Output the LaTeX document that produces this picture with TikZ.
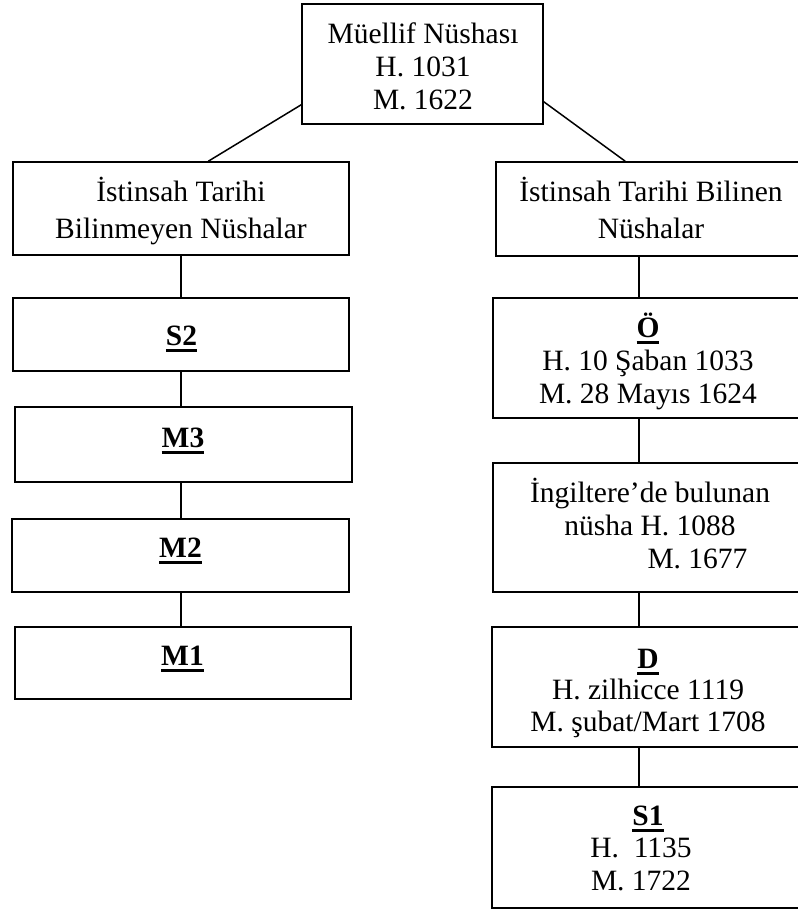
\documentclass[tikz,border=0pt]{standalone}
\usepackage{fontspec}
\setmainfont{Liberation Serif}
\usetikzlibrary{calc}
\newcommand\myul[1]{\setbox0\hbox{#1}\leavevmode\rlap{\rule[-6.5pt]{\wd0}{2.5pt}}\box0}
\newcommand\tst{\rule{0pt}{28pt}}
\newcommand\boxat[5]{\node[box, minimum width={(#4-#2)*1pt}, minimum height={(#5-#3)*1pt}] (#1) at ({(#2+#4)/2},{(#3+#5)/2}) {};}
\begin{document}
\begin{tikzpicture}[x=1pt,y=-1pt,
  box/.style={draw, line width=1.5pt, rectangle, inner sep=0pt},
  txt/.style={align=center, anchor=north, inner sep=0pt, font=\fontsize{29.5}{33}\selectfont},
  link/.style={line width=1.5pt}]
\useasboundingbox (0,0) rectangle (798,911);
\clip (0,0) rectangle (798,911);

% boxes
\boxat{top}{302}{4}{543}{124}
\boxat{lh}{13}{162}{349}{255}
\boxat{s2}{13}{298}{349}{371}
\boxat{m3}{15}{407}{352}{482}
\boxat{m2}{12}{519}{349}{592}
\boxat{m1}{15}{627}{351}{699}
\boxat{rh}{496}{162}{809}{256}
\boxat{o}{493}{298}{803}{418}
\boxat{ing}{493}{463}{807}{592}
\boxat{d}{492}{627}{805}{747}
\boxat{s1}{492}{787}{804}{908}

% texts
\node[txt] (topT) at (423,15) {\tst Müellif Nüshası\\H. 1031\\M. 1622};
\node[txt] (lhT) at (181,173) {\tst İstinsah Tarihi\\[4pt]Bilinmeyen Nüshalar};
\node[txt] (rhT) at (651,173) {\tst İstinsah Tarihi Bilinen\\[4pt]Nüshalar};
\node[txt] (s2T) at (181.5,317) {\tst\textbf{\myul{S2}}};
\node[txt] (m3T) at (183,419) {\tst\textbf{\myul{M3}}};
\node[txt] (m2T) at (180.5,529) {\tst\textbf{\myul{M2}}};
\node[txt] (m1T) at (182.5,637) {\tst\textbf{\myul{M1}}};
\node[txt] (oT) at (648,309) {\tst\textbf{\myul{Ö}}\\H. 10 Şaban 1033\\M. 28 Mayıs 1624};
\node[txt] (ingT) at (650,474) {\tst İngiltere’de bulunan\\nüsha H. 1088\\\hspace*{95pt}M. 1677};
\node[txt, font=\fontsize{29.5}{31.5}\selectfont] (dT) at (648,640) {\tst\textbf{\myul{D}}\\H. zilhicce 1119\\M. şubat/Mart 1708};
\node[txt, font=\fontsize{29.5}{32.5}\selectfont] (s1T) at (648,797) {\tst\textbf{\myul{S1}}\\H.\ \ 1135\rule{14pt}{0pt}\\M. 1722\rule{14pt}{0pt}};

% connectors
\coordinate (lx) at (181,0);
\coordinate (rx) at (639,0);
\draw[link] ($(top.south west)+(0,-20)$) -- ($(lh.north west)+(196,0)$);
\draw[link] ($(top.south east)+(0,-23)$) -- ($(rh.north west)+(130,0)$);
\draw[link] (lh.south -| lx) -- (s2.north -| lx);
\draw[link] (s2.south -| lx) -- (m3.north -| lx);
\draw[link] (m3.south -| lx) -- (m2.north -| lx);
\draw[link] (m2.south -| lx) -- (m1.north -| lx);
\draw[link] (rh.south -| rx) -- (o.north -| rx);
\draw[link] (o.south -| rx) -- (ing.north -| rx);
\draw[link] (ing.south -| rx) -- (d.north -| rx);
\draw[link] (d.south -| rx) -- (s1.north -| rx);
\end{tikzpicture}
\end{document}
